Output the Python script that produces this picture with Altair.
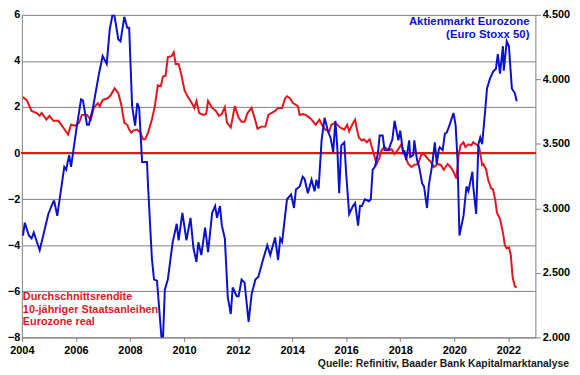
import altair as alt
import pandas as pd

# Euro Stoxx 50 (right axis), decimal years
blue_year = [2004.04, 2004.11, 2004.26, 2004.36, 2004.44, 2004.66, 2004.98, 2005.17, 2005.20, 2005.31,
             2005.57, 2005.64, 2005.75, 2005.82, 2006.01, 2006.19, 2006.26, 2006.41, 2006.48, 2006.63,
             2006.84, 2006.99, 2007.14, 2007.25, 2007.39, 2007.57, 2007.65, 2007.79, 2007.90, 2007.97,
             2008.08, 2008.19, 2008.27, 2008.34, 2008.45, 2008.63, 2008.67, 2008.81, 2008.89, 2009.00,
             2009.18, 2009.22, 2009.29, 2009.40, 2009.58, 2009.73, 2009.80, 2009.94, 2010.09, 2010.24,
             2010.35, 2010.46, 2010.53, 2010.64, 2010.78, 2010.89, 2011.04, 2011.15, 2011.22, 2011.33,
             2011.40, 2011.51, 2011.62, 2011.73, 2011.80, 2011.95, 2012.02, 2012.13, 2012.24, 2012.39,
             2012.50, 2012.64, 2012.75, 2012.94, 2013.08, 2013.19, 2013.26, 2013.37, 2013.48, 2013.56,
             2013.63, 2013.81, 2013.96, 2014.07, 2014.14, 2014.28, 2014.39, 2014.46, 2014.58, 2014.72,
             2014.83, 2014.90, 2014.98, 2015.09, 2015.20, 2015.23, 2015.34, 2015.42, 2015.52, 2015.60,
             2015.67, 2015.74, 2015.82, 2015.93, 2016.00, 2016.11, 2016.25, 2016.33, 2016.44, 2016.51,
             2016.58, 2016.69, 2016.84, 2016.91, 2016.98, 2017.06, 2017.17, 2017.24, 2017.35, 2017.42,
             2017.57, 2017.64, 2017.71, 2017.79, 2017.93, 2018.00, 2018.11, 2018.15, 2018.22, 2018.33,
             2018.37, 2018.48, 2018.52, 2018.62, 2018.70, 2018.81, 2018.88, 2018.99, 2019.06, 2019.17,
             2019.28, 2019.35, 2019.43, 2019.46, 2019.57, 2019.65, 2019.72, 2019.83, 2019.97, 2020.05,
             2020.12, 2020.19, 2020.34, 2020.45, 2020.52, 2020.67, 2020.70, 2020.81, 2020.89, 2020.96,
             2021.03, 2021.14, 2021.21, 2021.32, 2021.43, 2021.54, 2021.61, 2021.69, 2021.80, 2021.83,
             2021.94, 2022.02, 2022.13, 2022.24, 2022.31]
blue_val = [2790, 2889, 2790, 2767, 2813, 2676, 2957, 3056, 3056, 2942,
            3322, 3300, 3413, 3322, 3603, 3846, 3838, 3649, 3649, 3778,
            4029, 4181, 4120, 4386, 4540, 4310, 4295, 4485, 4400, 4400,
            3793, 3641, 3816, 3778, 3360, 3360, 3170, 2615, 2448, 2440,
            1960, 1980, 2372, 2448, 2737, 2881, 2752, 2965, 2752, 2927,
            2691, 2585, 2737, 2638, 2851, 2661, 2965, 3018, 2927, 3018,
            2866, 2767, 2311, 2182, 2387, 2319, 2319, 2448, 2425, 2121,
            2334, 2448, 2471, 2615, 2714, 2638, 2691, 2775, 2600, 2767,
            2740, 3071, 3109, 3003, 3147, 3170, 3246, 3230, 3117, 3223,
            3132, 3223, 3155, 3527, 3702, 3679, 3588, 3550, 3436, 3679,
            3474, 3117, 3489, 3512, 3269, 2957, 3018, 3041, 2866, 3018,
            3018, 3071, 3056, 3071, 3299, 3322, 3421, 3565, 3565, 3451,
            3451, 3497, 3535, 3679, 3527, 3603, 3421, 3451, 3375, 3527,
            3398, 3413, 3527, 3375, 3322, 3193, 3170, 3003, 3185, 3322,
            3512, 3345, 3459, 3474, 3451, 3580, 3588, 3649, 3740, 3641,
            3375, 2790, 2942, 3170, 3132, 3284, 3170, 2957, 3497, 3550,
            3497, 3755, 3930, 4006, 4059, 4082, 4196, 4044, 4257, 4067,
            4295, 4257, 3930, 3892, 3831]

# Real 10y government bond yield Eurozone (left axis), decimal years
red_year = [2004.04, 2004.18, 2004.36, 2004.55, 2004.66, 2004.73, 2004.91, 2005.02, 2005.17, 2005.35,
            2005.53, 2005.71, 2005.82, 2005.97, 2006.12, 2006.22, 2006.41, 2006.55, 2006.66, 2006.81,
            2006.88, 2006.99, 2007.17, 2007.28, 2007.43, 2007.57, 2007.68, 2007.79, 2007.90, 2007.97,
            2008.05, 2008.12, 2008.27, 2008.38, 2008.49, 2008.56, 2008.67, 2008.81, 2008.92, 2009.03,
            2009.14, 2009.22, 2009.32, 2009.40, 2009.54, 2009.62, 2009.69, 2009.80, 2009.91, 2010.02,
            2010.13, 2010.24, 2010.35, 2010.38, 2010.46, 2010.56, 2010.71, 2010.82, 2010.89, 2011.04,
            2011.18, 2011.29, 2011.40, 2011.51, 2011.59, 2011.73, 2011.88, 2012.02, 2012.13, 2012.24,
            2012.35, 2012.50, 2012.61, 2012.72, 2012.86, 2013.01, 2013.12, 2013.23, 2013.37, 2013.48,
            2013.63, 2013.74, 2013.81, 2013.92, 2014.03, 2014.14, 2014.21, 2014.28, 2014.39, 2014.50,
            2014.65, 2014.76, 2014.87, 2015.01, 2015.12, 2015.23, 2015.38, 2015.45, 2015.60, 2015.67,
            2015.78, 2015.93, 2016.04, 2016.11, 2016.22, 2016.33, 2016.40, 2016.47, 2016.58, 2016.66,
            2016.76, 2016.87, 2017.02, 2017.13, 2017.24, 2017.31, 2017.42, 2017.57, 2017.68, 2017.79,
            2017.93, 2018.04, 2018.15, 2018.30, 2018.41, 2018.52, 2018.66, 2018.77, 2018.88, 2019.03,
            2019.13, 2019.24, 2019.39, 2019.50, 2019.61, 2019.75, 2019.86, 2019.97, 2020.08, 2020.16,
            2020.23, 2020.34, 2020.41, 2020.52, 2020.63, 2020.70, 2020.85, 2020.92, 2021.03, 2021.07,
            2021.18, 2021.25, 2021.36, 2021.43, 2021.51, 2021.58, 2021.69, 2021.80, 2021.87, 2021.94,
            2022.02, 2022.09, 2022.16, 2022.24, 2022.31]
red_val = [2.43, 2.30, 1.83, 1.74, 1.62, 1.74, 1.45, 1.62, 1.40, 1.40,
           1.11, 0.81, 1.23, 1.19, 1.32, 1.66, 1.66, 1.45, 1.96, 2.17,
           2.04, 2.30, 2.38, 2.50, 2.81, 2.60, 2.09, 1.32, 1.23, 1.02,
           0.89, 0.98, 1.02, 0.89, 0.60, 0.60, 0.89, 1.45, 2.04, 2.94,
           2.90, 3.32, 3.36, 4.17, 4.21, 4.38, 3.87, 3.87, 3.36, 2.72,
           2.47, 2.26, 2.04, 1.96, 2.26, 1.74, 1.66, 1.70, 2.26, 1.96,
           1.83, 1.62, 1.70, 2.00, 1.32, 1.11, 2.04, 1.53, 1.36, 1.36,
           1.74, 1.96, 1.53, 1.06, 1.15, 1.15, 1.66, 1.74, 1.83, 1.96,
           1.96, 2.38, 2.47, 2.38, 2.17, 2.09, 2.04, 1.66, 1.70, 1.66,
           1.53, 1.40, 1.23, 1.45, 1.19, 1.02, 0.94, 1.23, 1.32, 1.23,
           1.11, 1.02, 1.23, 0.94, 1.23, 1.45, 1.02, 0.68, 0.55, 0.60,
           0.47, 0.60, -0.04, -0.47, -0.17, 0.13, 0.26, 0.13, 0.17, -0.04,
           0.17, 0.38, -0.04, -0.47, -0.60, -0.51, -0.47, -0.09, -0.04, -0.26,
           -0.38, -0.60, -0.47, -0.51, -0.72, -0.47, -0.60, -0.81, -1.11, -0.09,
           0.34, 0.47, 0.26, 0.38, 0.34, 0.47, 0.34, 0.26, -0.51, -0.47,
           -0.72, -1.15, -1.53, -1.57, -2.00, -2.60, -2.85, -3.45, -4.00, -4.13,
           -4.09, -4.43, -5.40, -5.79, -5.83]

left_ticks = [-8, -6, -4, -2, 0, 2, 4, 6]
right_ticks = [2000, 2500, 3000, 3500, 4000, 4500]
x_ticks = [2004, 2006, 2008, 2010, 2012, 2014, 2016, 2018, 2020, 2022]

BLUE = "#0b10cf"
RED = "#e3141b"
GRID = "#7f7f7f"
FONT = "Liberation Sans"

blue_df = pd.DataFrame({"year": blue_year, "value": blue_val})
red_df = pd.DataFrame({"year": red_year, "value": red_val})

x_enc = alt.X("year:Q",
              scale=alt.Scale(domain=[2004, 2023], nice=False, zero=False),
              axis=alt.Axis(values=x_ticks, format="d", title=None, grid=False,
                            labelFlush=False, tickSize=4, tickColor=GRID,
                            domainColor=GRID, labelPadding=3))

red_line = alt.Chart(red_df).mark_line(color=RED, strokeWidth=2, clip=True).encode(
    x=x_enc,
    y=alt.Y("value:Q",
            scale=alt.Scale(domain=[-8, 6], nice=False, zero=False),
            axis=alt.Axis(values=left_ticks, title=None, grid=True, gridColor=GRID,
                          gridOpacity=1, ticks=False, labelPadding=2,
                          domainColor=GRID))
)

zero_rule = alt.Chart(red_df).mark_rule(color=RED, strokeWidth=2).encode(
    y=alt.datum(0)
)

left = alt.layer(red_line, zero_rule)

blue_line = alt.Chart(blue_df).mark_line(color=BLUE, strokeWidth=2, clip=True).encode(
    x=x_enc,
    y=alt.Y("value:Q",
            scale=alt.Scale(domain=[2000, 4500], nice=False, zero=False),
            axis=alt.Axis(values=right_ticks, orient="right", title=None, grid=False,
                          labelExpr="format(datum.value / 1000, '.3f')",
                          tickSize=5, tickColor=GRID, domainColor=GRID, labelPadding=2))
)

blue_label = pd.DataFrame({"t": ["Aktienmarkt Eurozone", "(Euro Stoxx 50)"], "dy": [7, 20]})
red_label = pd.DataFrame({"t": ["Durchschnittsrendite", "10-jähriger Staatsanleihen", "Eurozone real"],
                          "dy": [285, 298, 310]})
src = pd.DataFrame({"t": ["Quelle: Refinitiv, Baader Bank Kapitalmarktanalyse"]})

blue_text = alt.Chart(blue_label).mark_text(
    align="right", baseline="middle", font=FONT, fontWeight="bold", fontSize=11.5, color=BLUE
).encode(x=alt.value(513), y=alt.Y("dy:Q", scale=None), text="t:N")

red_text = alt.Chart(red_label).mark_text(
    align="left", baseline="middle", font=FONT, fontWeight="bold", fontSize=11, color=RED
).encode(x=alt.value(1), y=alt.Y("dy:Q", scale=None), text="t:N")

src_text = alt.Chart(src).mark_text(
    align="right", baseline="middle", font=FONT, fontWeight="bold", fontSize=10.5, color="#1a1a1a"
).encode(x=alt.value(553), y=alt.value(353), text="t:N")

right = alt.layer(blue_line)

chart = alt.layer(left, right, blue_text, red_text, src_text).resolve_scale(
    y="independent"
).properties(
    width=519, height=326,
    autosize=alt.AutoSizeParams(type="none"),
    padding={"left": 14, "top": 5, "right": 37, "bottom": 34},
).configure_view(stroke=None).configure_axis(
    labelFont=FONT, labelFontWeight="bold", labelFontSize=11, labelColor="#000000"
)

chart.save("out.html", embed_options={"renderer": "svg", "actions": False})
